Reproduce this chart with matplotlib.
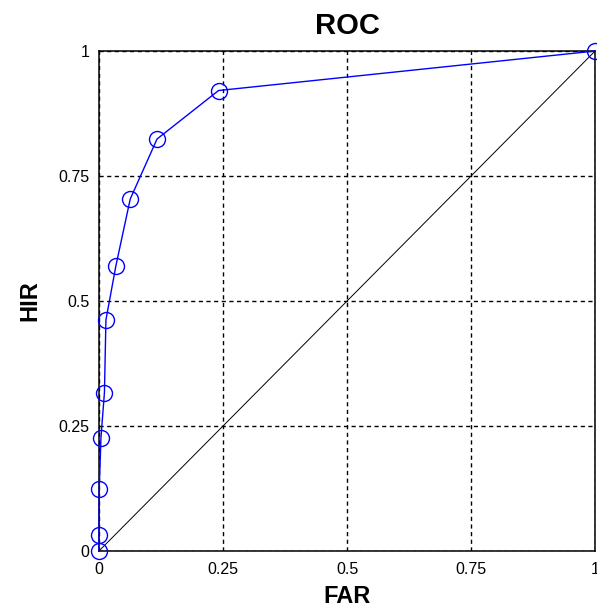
import numpy as np
import matplotlib.pyplot as plt

# ROC points
far = [0.0, 0.0, 0.0005, 0.004, 0.011, 0.014, 0.034, 0.063, 0.117, 0.241, 1.0]
hir = [0.0, 0.032, 0.125, 0.227, 0.317, 0.462, 0.57, 0.704, 0.824, 0.921, 1.0]
ticks = [0, 0.25, 0.5, 0.75, 1]
tick_labels = ['0', '0.25', '0.5', '0.75', '1']

plt.rcParams['font.family'] = ['Liberation Sans', 'DejaVu Sans']

fig = plt.figure(figsize=(5.97, 6.14), dpi=100)
ax = fig.add_axes([0.1658, 0.1026, 0.831, 0.8143])

# chance line
ax.plot([0, 1], [0, 1], color='black', linewidth=0.7)

ax.plot(far, hir, color='blue', linewidth=1.0, marker='o', markersize=11.5,
        markerfacecolor='none', markeredgecolor='blue', markeredgewidth=1.0,
        clip_on=False, zorder=5)

ax.set_xlim(0, 1)
ax.set_ylim(0, 1)
ax.set_xticks(ticks)
ax.set_yticks(ticks)
ax.set_xticklabels(tick_labels, fontsize=11.5)
ax.set_yticklabels(tick_labels, fontsize=11.5)
ax.tick_params(axis='x', direction='in', length=0, pad=8)
ax.tick_params(axis='y', direction='in', length=0, pad=7)
ax.grid(True, color='black', linestyle=(0, (3, 2.5)), linewidth=1.0)

for s in ax.spines.values():
    s.set_linewidth(1.1)

ax.set_title('ROC', fontsize=21, fontweight='bold', pad=12)
ax.set_xlabel('FAR', fontsize=17, fontweight='bold', labelpad=6)
ax.set_ylabel('HIR', fontsize=17, fontweight='bold', labelpad=12)

fig.savefig('out.png', dpi=100)
